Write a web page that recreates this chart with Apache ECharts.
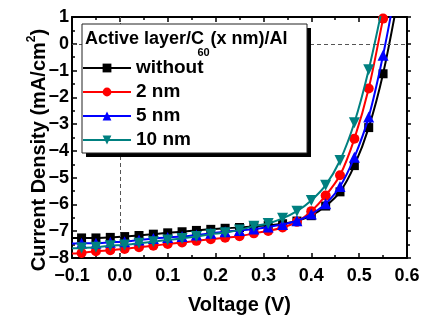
<!DOCTYPE html>
<html>
<head>
<meta charset="utf-8">
<script src="https://cdn.jsdelivr.net/npm/echarts@6/dist/echarts.min.js"></script>
<style>html,body{margin:0;padding:0;background:#fff;}#c{width:427px;height:320px;}</style>
</head>
<body>
<div id="c"></div>
<script>
// Voltage (V); first point (-0.1) is a line-only point without marker
const voltage = [-0.10, -0.08, -0.05, -0.02, 0.01, 0.04, 0.07, 0.10, 0.13, 0.16, 0.19, 0.22, 0.25, 0.28, 0.31, 0.34, 0.37, 0.40, 0.43, 0.46, 0.49, 0.52, 0.55, 0.58];
const seriesNames = ['without', '2 nm', '5 nm', '10 nm'];
const jWithout = [-7.25, -7.25, -7.25, -7.23, -7.20, -7.16, -7.11, -7.06, -7.02, -6.97, -6.93, -6.89, -6.86, -6.82, -6.78, -6.72, -6.62, -6.42, -6.06, -5.53, -4.55, -3.13, -1.12, 1.6];
const j2nm     = [-7.83, -7.81, -7.75, -7.71, -7.66, -7.60, -7.54, -7.48, -7.42, -7.36, -7.30, -7.24, -7.19, -7.08, -6.99, -6.86, -6.65, -6.25, -5.67, -4.91, -3.55, -1.67, 0.94, 3.6];
const j5nm     = [-7.46, -7.45, -7.45, -7.41, -7.39, -7.33, -7.27, -7.23, -7.20, -7.14, -7.08, -7.02, -6.97, -6.92, -6.84, -6.75, -6.61, -6.36, -5.97, -5.33, -4.24, -2.73, -0.43, 2.4];
const j10nm    = [-7.64, -7.63, -7.60, -7.54, -7.51, -7.45, -7.39, -7.33, -7.27, -7.20, -7.11, -7.06, -6.95, -6.81, -6.71, -6.52, -6.25, -5.85, -5.28, -4.36, -2.95, -0.97, 1.5, null];
const xTicks = [-0.1, 0.0, 0.1, 0.2, 0.3, 0.4, 0.5, 0.6];
const yTicks = [-8, -7, -6, -5, -4, -3, -2, -1, 0, 1];

const FF = "'Liberation Sans', Arial, Helvetica, sans-serif";
const colors = ['#000000', '#ff0000', '#0000ff', '#008080'];
const symbols = ['rect', 'circle', 'triangle', 'path://M0,0 L10,0 L5,9 Z'];
const sizes = [9, 10, 11, 11];
const allJ = [jWithout, j2nm, j5nm, j10nm];

function build(arr) {
  const out = [];
  for (let i = 0; i < voltage.length; i++) {
    if (arr[i] === null || arr[i] === undefined) continue;
    const item = { value: [voltage[i], arr[i]] };
    if (i === 0) item.symbol = 'none';
    out.push(item);
  }
  return out;
}

const ctx = document.createElement('canvas').getContext('2d');
function tw(t, font) { ctx.font = font; return ctx.measureText(t).width; }

const chart = echarts.init(document.getElementById('c'), null, { renderer: 'canvas' });

const minus = s => String(s).replace('-', '\u2212');

const axisCommon = {
  type: 'value',
  axisLine: { show: true, onZero: false, lineStyle: { color: '#000', width: 2 } },
  splitLine: { show: false },
  minorSplitLine: { show: false }
};

const series = allJ.map((arr, i) => ({
  name: seriesNames[i],
  type: 'line',
  data: build(arr),
  smooth: 0.3,
  symbol: symbols[i],
  symbolSize: sizes[i],
  showAllSymbol: true,
  clip: true,
  lineStyle: { color: colors[i], width: 2 },
  itemStyle: { color: colors[i] },
  z: 2 + i,
  markLine: i === 0 ? {
    silent: true,
    symbol: ['none', 'none'],
    label: { show: false },
    lineStyle: { type: [4, 3], color: '#555', width: 1 },
    data: [{ xAxis: 0 }, { yAxis: 0 }],
    animation: false
  } : undefined
}));

// Y axis title pieces
const yFont = 'bold 20px ' + FF;
const ySup = 'bold 12px ' + FF;
const y1 = 'Current Density (mA/cm', y2 = '2', y3 = ')';
const yw1 = tw(y1, yFont), yw2 = tw(y2, ySup), yw3 = tw(y3, yFont);
const yW = yw1 + yw2 + yw3;

const tFont = 'bold 18px ' + FF;
const sFont = 'bold 11px ' + FF;

chart.setOption({
  animation: false,
  backgroundColor: '#fff',
  grid: { left: 72, right: 20, top: 17, bottom: 55, containLabel: false },
  xAxis: [
    Object.assign({}, axisCommon, {
      min: xTicks[0], max: xTicks[xTicks.length - 1], interval: 0.1, position: 'bottom',
      axisTick: { inside: true, length: 5, lineStyle: { color: '#000', width: 1.5 } },
      minorTick: { show: true, splitNumber: 2, length: 3, lineStyle: { color: '#000', width: 1.5 } },
      axisLabel: { margin: 9, color: '#000', fontSize: 18, fontWeight: 'bold', fontFamily: FF,
        formatter: v => minus((Math.round(v * 10) / 10).toFixed(1)) },
      name: 'Voltage (V)', nameLocation: 'middle', nameGap: 37,
      nameTextStyle: { color: '#000', fontSize: 20, fontWeight: 'bold', fontFamily: FF }
    }),
    Object.assign({}, axisCommon, {
      min: xTicks[0], max: xTicks[xTicks.length - 1], interval: 0.1, position: 'top',
      axisTick: { inside: true, length: 5, lineStyle: { color: '#000', width: 1.5 } },
      minorTick: { show: true, splitNumber: 2, length: 3, lineStyle: { color: '#000', width: 1.5 } },
      axisLabel: { show: false }
    })
  ],
  yAxis: [
    Object.assign({}, axisCommon, {
      min: yTicks[0], max: yTicks[yTicks.length - 1], interval: 1, position: 'left',
      axisTick: { inside: true, length: 5, lineStyle: { color: '#000', width: 1.5 } },
      minorTick: { show: true, splitNumber: 2, length: 3, lineStyle: { color: '#000', width: 1.5 } },
      axisLabel: { margin: 3, color: '#000', fontSize: 18, fontWeight: 'bold', fontFamily: FF,
        formatter: v => minus(v) }
    }),
    Object.assign({}, axisCommon, {
      min: yTicks[0], max: yTicks[yTicks.length - 1], interval: 1, position: 'right',
      axisTick: { inside: false, length: 4, lineStyle: { color: '#000', width: 1.5 } },
      minorTick: { show: true, splitNumber: 2, length: 3, lineStyle: { color: '#000', width: 1.5 } },
      axisLabel: { show: false }
    })
  ],
  legend: {
    orient: 'vertical', left: 82, top: 58, padding: 0, itemGap: 4,
    itemWidth: 48, itemHeight: 11, z: 20, selectedMode: false,
    textStyle: { color: '#000', fontSize: 19, fontWeight: 'bold', fontFamily: FF, lineHeight: 20 },
    data: seriesNames
  },
  graphic: [
    { type: 'rect', z: 10, shape: { x: 86, y: 28, width: 225, height: 129 }, style: { fill: '#000' } },
    { type: 'rect', z: 11, shape: { x: 82, y: 24, width: 225, height: 129 }, style: { fill: '#fff', stroke: '#222', lineWidth: 1 } },
    { type: 'text', z: 12, x: 85, y: 39, style: { text: 'Active layer/C', font: tFont, fill: '#000', align: 'left', verticalAlign: 'middle' } },
    { type: 'text', z: 12, x: 197.5, y: 53, style: { text: '60', font: sFont, fill: '#000', align: 'left', verticalAlign: 'middle' } },
    { type: 'text', z: 12, x: 210.5, y: 39, style: { text: '(x nm)/Al', font: tFont, fill: '#000', align: 'left', verticalAlign: 'middle' } },
    { type: 'group', x: 39, y: 150, rotation: Math.PI / 2, children: [
      { type: 'text', x: -yW / 2, y: 0, style: { text: y1, font: yFont, fill: '#000', textAlign: 'left', textVerticalAlign: 'middle' } },
      { type: 'text', x: -yW / 2 + yw1, y: -7, style: { text: y2, font: ySup, fill: '#000', textAlign: 'left', textVerticalAlign: 'middle' } },
      { type: 'text', x: -yW / 2 + yw1 + yw2, y: 0, style: { text: y3, font: yFont, fill: '#000', textAlign: 'left', textVerticalAlign: 'middle' } }
    ] }
  ],
  series: series
});
</script>
</body>
</html>
